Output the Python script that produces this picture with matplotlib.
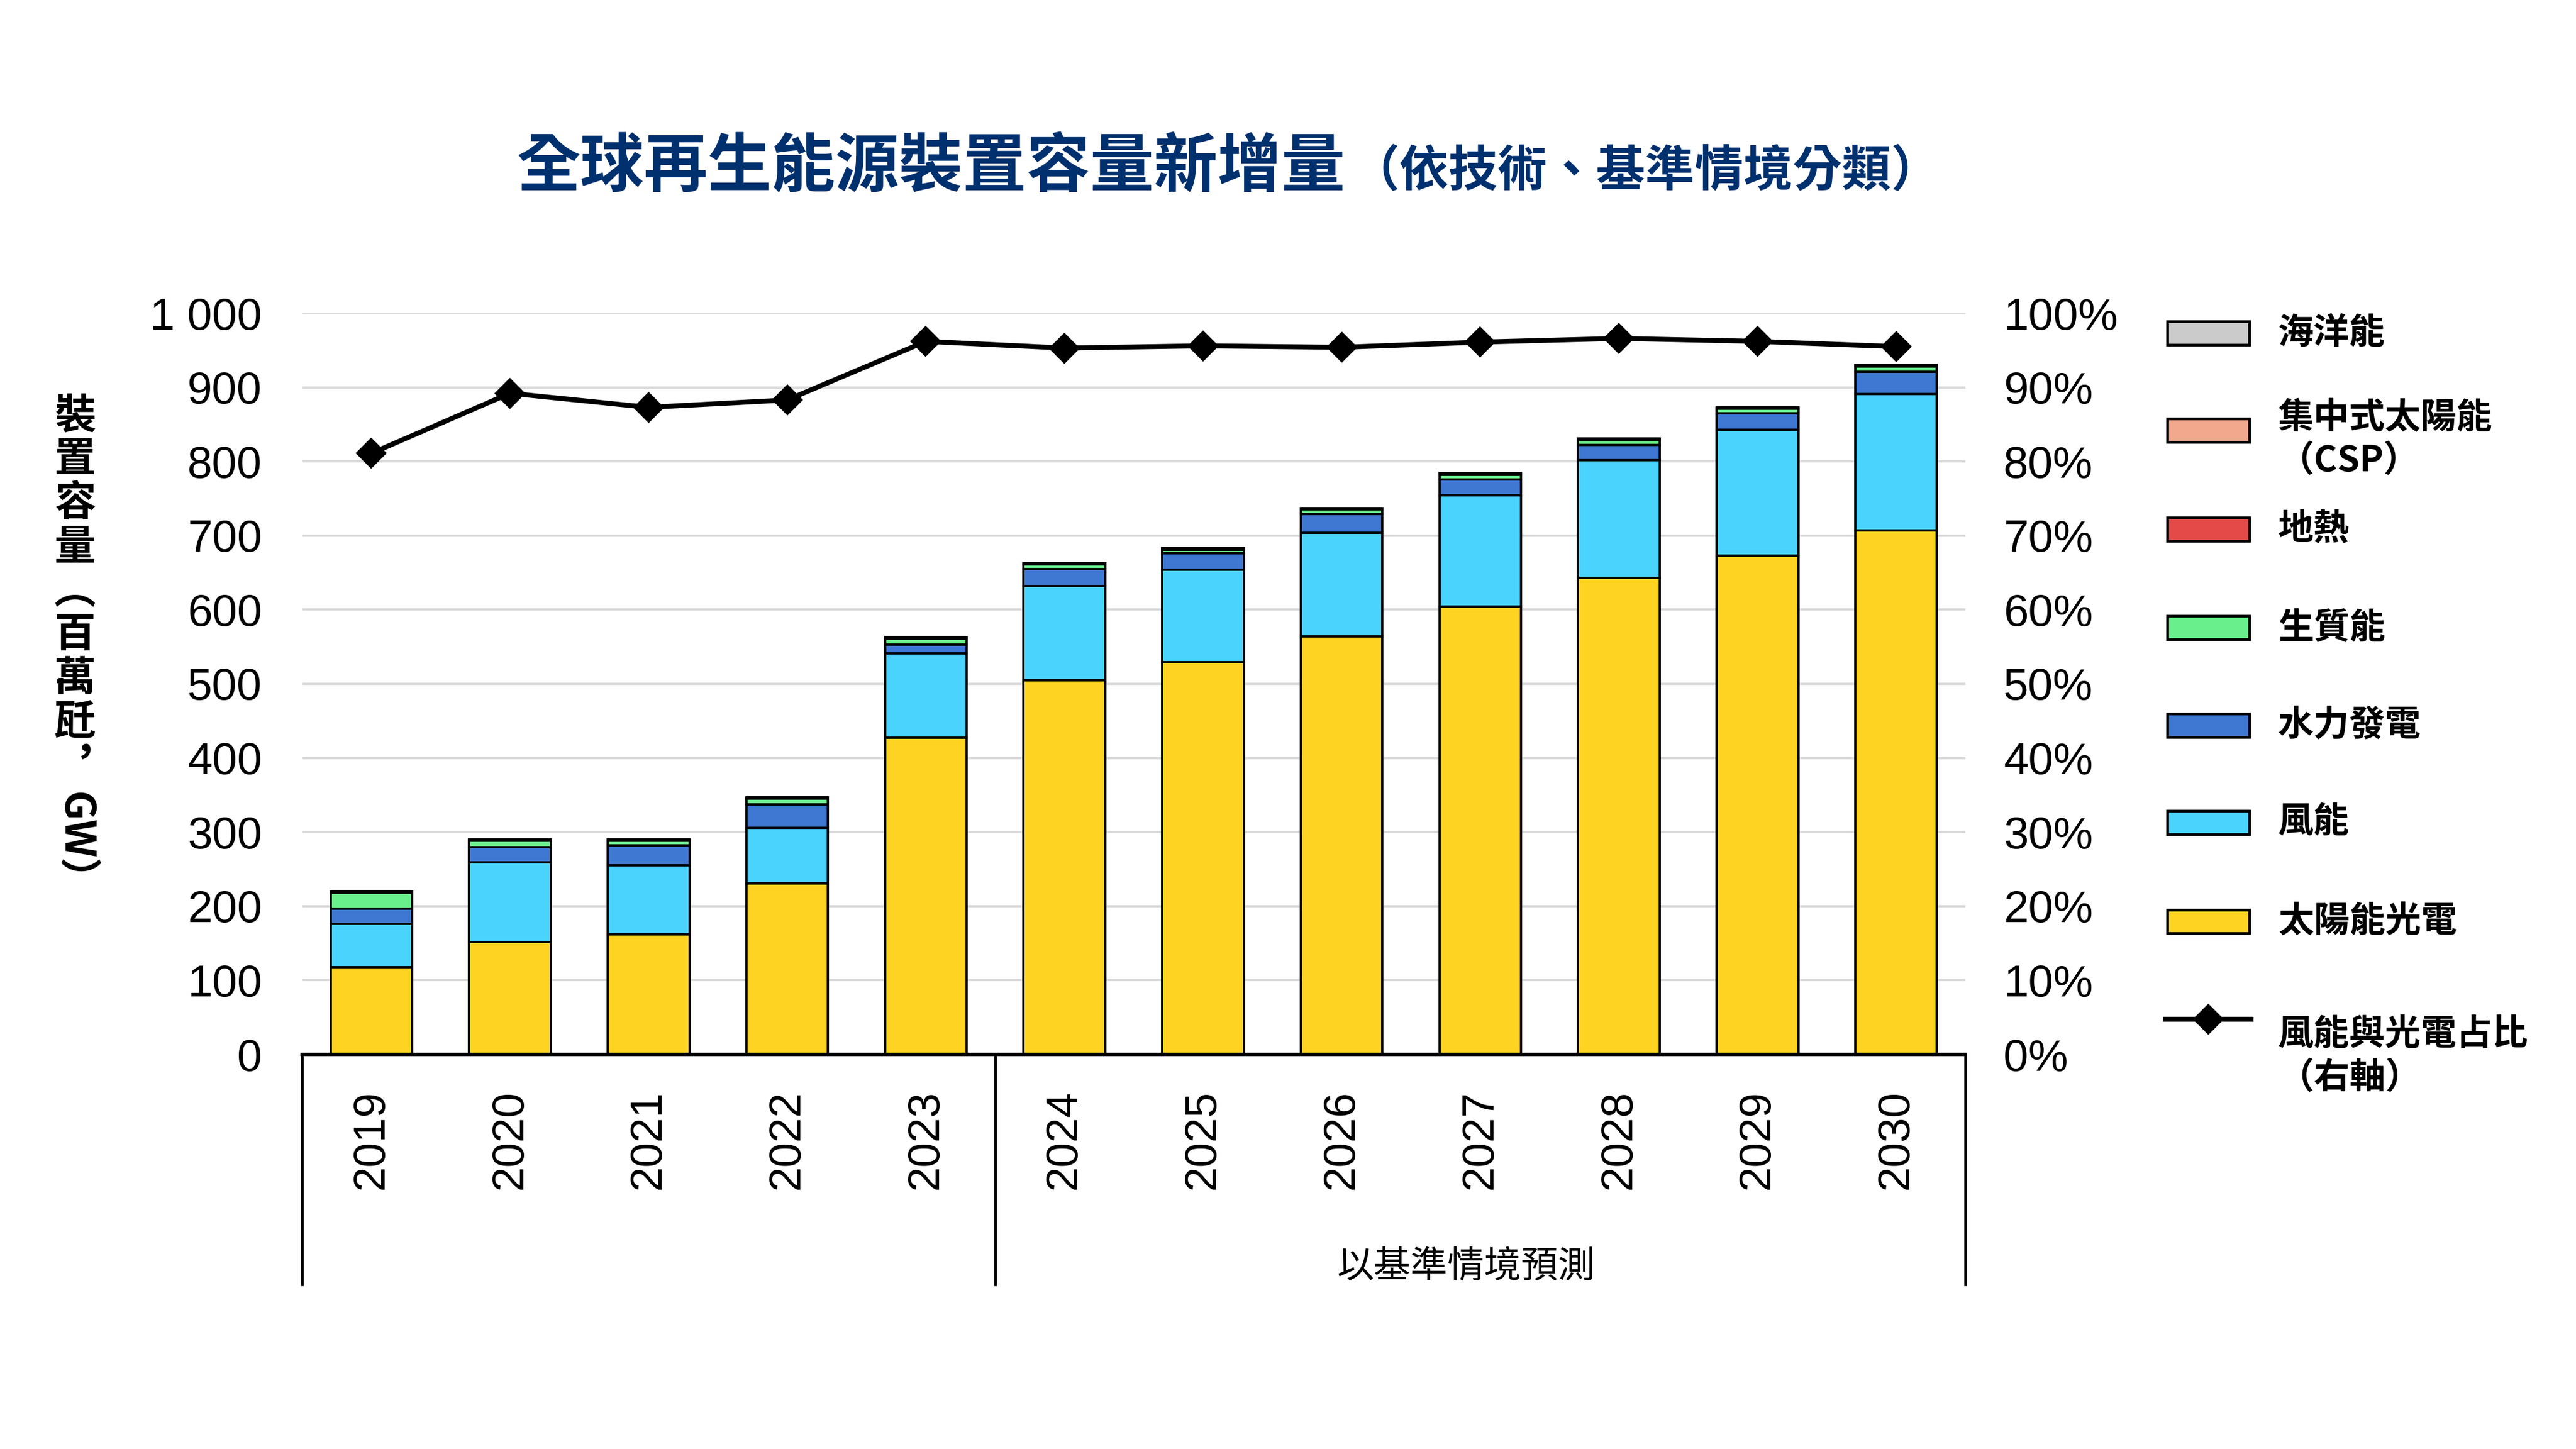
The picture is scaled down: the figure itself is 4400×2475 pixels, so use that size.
import matplotlib
matplotlib.use("Agg")
import matplotlib.pyplot as plt
from matplotlib.patches import Rectangle
from matplotlib.lines import Line2D
import numpy as np

# ---------------- data ----------------
years = [2019, 2020, 2021, 2022, 2023, 2024, 2025, 2026, 2027, 2028, 2029, 2030]
solar = [118, 152, 162, 231, 427, 505, 529, 564, 604, 643, 673, 707]
wind = [58, 107, 93, 75, 114, 127, 125, 140, 150, 159, 170, 184]
hydro = [21, 21, 27, 31, 12, 23, 22, 25, 22, 20, 22, 30]
bio = [21, 8, 6, 8, 8, 6, 5, 6, 6, 7, 6, 7]
geothermal = [1.5, 1.5, 1.5, 1.5, 1.5, 1.5, 1.5, 1.5, 1.5, 1.5, 1.5, 1.5]
csp = [0.5, 0.5, 0.5, 0.5, 0.5, 0.5, 0.5, 0.5, 0.5, 0.5, 0.5, 0.5]
ocean = [0.1, 0.1, 0.1, 0.1, 0.1, 0.1, 0.1, 0.1, 0.1, 0.1, 0.1, 0.1]
share_pct = [81.1, 89.2, 87.3, 88.3, 96.2, 95.3, 95.6, 95.4, 96.1, 96.6, 96.2, 95.5]

series_names = ["太陽能光電", "風能", "水力發電", "生質能", "地熱", "集中式太陽能\n（CSP）", "海洋能"]
series_vals = [solar, wind, hydro, bio, geothermal, csp, ocean]
series_colors = ["#FED322", "#4AD4FD", "#3F78D2", "#69F08C", "#E34A48", "#F2A88C", "#CBCBCB"]
line_name = "風能與光電占比\n（右軸）"

title_main = "全球再生能源裝置容量新增量"
title_sub = "（依技術、基準情境分類）"
forecast_label = "以基準情境預測"
left_ticks = list(range(0, 1001, 100))
left_ticklabels = ["0", "100", "200", "300", "400", "500", "600", "700", "800", "900", "1 000"]
right_ticks = list(range(0, 101, 10))
right_ticklabels = [f"{v}%" for v in right_ticks]

# ---------------- style ----------------
CJK = ["Noto Sans CJK TC", "DejaVu Sans"]
NUM = ["Liberation Sans", "DejaVu Sans"]
plt.rcParams["font.family"] = NUM

W, H = 4400, 2475
def fx(px):
    return px / W
def fy(py):
    return 1 - py / H

fig = plt.figure(figsize=(16, 9), dpi=275)
ax = fig.add_axes([fx(516), fy(1801), (3357 - 516) / W, (1801 - 535) / H])

x = np.arange(len(years))
bottom = np.zeros(len(years))
for vals, col in zip(series_vals, series_colors):
    ax.bar(x, vals, bottom=bottom, width=0.59, color=col, edgecolor="black",
           linewidth=1.0, zorder=3)
    bottom += np.array(vals)

ax.set_xlim(-0.5, 11.5)
ax.set_ylim(0, 1000)
ax.set_yticks(left_ticks)
ax.set_yticklabels(left_ticklabels)
ax.yaxis.grid(True, color="#D9D9D9", linewidth=1.0)
ax.set_axisbelow(True)
ax.tick_params(axis="y", length=0, pad=18, labelsize=20)
ax.set_xticks(x)
ax.set_xticklabels([str(y) for y in years], rotation=90)
ax.tick_params(axis="x", length=0, pad=16, labelsize=20)
for s in ["top", "left", "right"]:
    ax.spines[s].set_visible(False)
ax.spines["bottom"].set_linewidth(1.5)
ax.spines["bottom"].set_zorder(5)

ax2 = ax.twinx()
ax2.set_ylim(0, 100)
ax2.set_yticks(right_ticks)
ax2.set_yticklabels(right_ticklabels)
ax2.tick_params(axis="y", length=0, pad=17, labelsize=20)
for s in ax2.spines.values():
    s.set_visible(False)
ax2.plot(x, share_pct, color="black", linewidth=2.2, marker="D", markersize=9, zorder=6)

# bracket below axis
trans = ax.get_xaxis_transform()
depth = (2194 - 1801) / (1801 - 535)
for xv in [-0.5, 4.5, 11.5]:
    ax.plot([xv, xv], [0, -depth], transform=trans, color="black", linewidth=1.2,
            clip_on=False)
ax.text(7.9, -(2163 - 1801) / (1801 - 535), forecast_label, transform=trans,
        ha="center", va="center", fontsize=16.5, family=CJK)

# y label (vertical writing)
fig.text(fx(128), fy(674), "裝\n置\n容\n量\n︵\n百\n萬\n瓩\n︐", ha="center", va="top",
         fontsize=18.5, family=CJK, linespacing=1.05, weight="bold")
fig.text(fx(128), fy(1352), "GW）", ha="center", va="top", rotation=-90,
         fontsize=18.5, family=CJK, weight="bold")

# title
t1 = fig.text(fx(883), fy(318), title_main, ha="left", va="baseline", fontsize=28.5,
              weight="bold", color="#00306E", family=CJK)
fig.canvas.draw()
bb = t1.get_window_extent()
fig.text(bb.x1 / W + fx(8), fy(318), title_sub, ha="left", va="baseline", fontsize=22,
         weight="bold", color="#00306E", family=CJK)

# legend (manual)
leg_names = list(reversed(series_names))
leg_colors = list(reversed(series_colors))
patch_y = [569, 735, 904, 1072, 1239, 1405, 1574]
text_y = [569, 750, 904, 1072, 1239, 1405, 1574]
for name, col, py, ty in zip(leg_names, leg_colors, patch_y, text_y):
    fig.add_artist(Rectangle((fx(3702), fy(py + 20)), 140 / W, 40 / H,
                             transform=fig.transFigure, facecolor=col,
                             edgecolor="black", linewidth=1.2))
    fig.text(fx(3891), fy(ty), name, ha="left", va="center", fontsize=16,
             family=CJK, weight="bold", linespacing=1.25)
fig.add_artist(Line2D([fx(3699), fx(3845)], [fy(1741), fy(1741)],
                      transform=fig.transFigure, color="black", linewidth=2.2))
fig.add_artist(Line2D([fx(3772)], [fy(1741)], transform=fig.transFigure,
                      color="black", marker="D", markersize=9))
fig.text(fx(3891), fy(1804), line_name, ha="left", va="center", fontsize=16,
         family=CJK, weight="bold", linespacing=1.25)

fig.savefig("out.png", dpi=275, facecolor="white")
